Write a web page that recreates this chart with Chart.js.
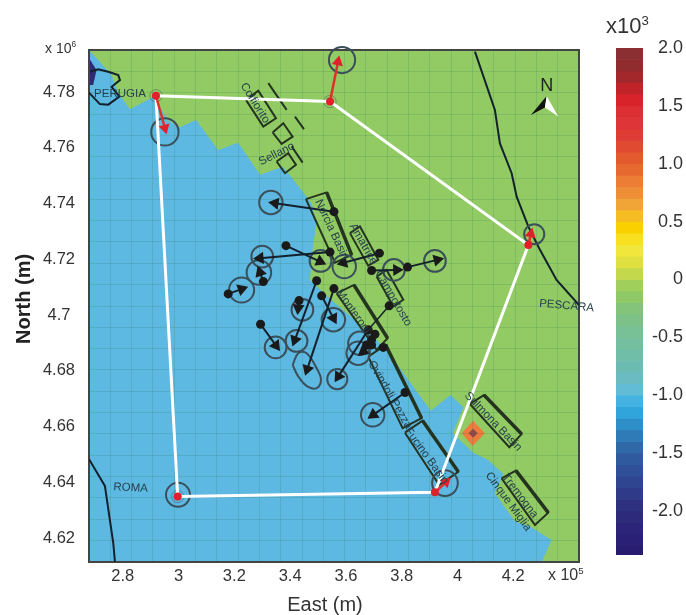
<!DOCTYPE html>
<html>
<head>
<meta charset="utf-8">
<script src="https://cdn.jsdelivr.net/npm/chart.js@4"></script>
<style>
body { margin: 0; background: #fff; font-family: "Liberation Sans", sans-serif; color: #333; }
canvas { position: absolute; top: 0; }
#mapChart { left: 0; }
#barChart { left: 600px; }
.exp { position: absolute; white-space: nowrap; }
.exp sup { font-size: 60%; line-height: 0; }
</style>
</head>
<body>
<canvas id="mapChart" width="600" height="615"></canvas>
<canvas id="barChart" width="86" height="615"></canvas>
<div class="exp" style="left:45px;top:40px;font-size:14px">x 10<sup>6</sup></div>
<div class="exp" style="left:548px;top:566px;font-size:16px">x 10<sup>5</sup></div>
<div class="exp" style="left:606px;top:13px;font-size:22px">x10<sup>3</sup></div>
<script>
// axes, east in 1e5 m and north in 1e6 m
var xMin = 2.679, xMax = 4.4355;
var yMin = 4.6114, yMax = 4.7951;
var xTicks = [2.8, 3, 3.2, 3.4, 3.6, 3.8, 4, 4.2];
var yTicks = [4.62, 4.64, 4.66, 4.68, 4.7, 4.72, 4.74, 4.76, 4.78];

// land / sea boundary, walking down the coast then round the east side
var landX = [2.679, 2.760, 2.784, 2.826, 2.912, 2.960, 3.005, 3.063, 3.142, 3.214, 3.292, 3.375, 3.477, 3.495, 3.483, 3.471, 3.555, 3.674, 3.746, 3.904, 3.975, 4.021, 3.983, 4.056, 4.110, 4.164, 4.134, 4.206, 4.260, 4.337, 4.302, 4.4355, 4.4355];
var landY = [4.7951, 4.7861, 4.7796, 4.7738, 4.7784, 4.7700, 4.7674, 4.7700, 4.7592, 4.7618, 4.7503, 4.7532, 4.7401, 4.7329, 4.7258, 4.7126, 4.7048, 4.6947, 4.6875, 4.6657, 4.6713, 4.6669, 4.6576, 4.6506, 4.6480, 4.6430, 4.6361, 4.6259, 4.6241, 4.6193, 4.6114, 4.6114, 4.7951];
var deepX = [2.679, 2.706, 2.694, 2.679];
var deepY = [4.7922, 4.7879, 4.7825, 4.7825];
var diamondX = [4.056, 4.098, 4.054, 4.015];
var diamondY = [4.6621, 4.6576, 4.6530, 4.6576];
var northDarkX = [4.263, 4.3195, 4.3134];
var northDarkY = [4.7718, 4.7786, 4.7745];
var northLightX = [4.3195, 4.361, 4.3134];
var northLightY = [4.7786, 4.7712, 4.7745];

// black curves
var perugiaX = [2.679, 2.718, 2.748, 2.788, 2.760, 2.790, 2.784, 2.748, 2.712, 2.683];
var perugiaY = [4.7798, 4.7757, 4.7755, 4.7784, 4.7819, 4.7843, 4.7861, 4.7873, 4.7882, 4.7873];
var pescaraX = [4.0625, 4.134, 4.152, 4.194, 4.212, 4.254, 4.2955, 4.355, 4.4355];
var pescaraY = [4.7945, 4.7736, 4.7616, 4.7509, 4.7425, 4.7317, 4.7234, 4.7126, 4.7036];
var romaX = [2.679, 2.736, 2.766, 2.772];
var romaY = [4.6483, 4.6387, 4.6182, 4.6114];

// fault boxes and strokes, null breaks the line
var faultX = [3.2417, 3.2859, 3.3492, 3.3038, 3.2417, null, 3.3217, 3.3874, null, 3.4173, 3.4496, null,
    3.3373, 3.3755, 3.4089, 3.3695, 3.3373, null, 3.3516, 3.3934, 3.4209, 3.3815, 3.3516, null, 3.4054, 3.4448, null,
    3.4567, 3.5308, 3.6204, 3.5607, 3.4567, null, 3.6145, 3.6503, 3.716, 3.680, 3.6145, null,
    3.710, 3.7459, 3.8056, 3.7698, 3.710, null, 3.5667, 3.6288, 3.7495, 3.710, 3.5667, null,
    3.680, 3.7423, 3.8713, 3.8032, 3.680, null, 3.8116, 3.8749, 4.0028, 3.9347, 3.8116, null,
    4.0446, 4.0948, 4.2298, 4.1856, 4.0446, null, 4.1581, 4.2095, 4.3253, 4.2776, 4.1581];
var faultY = [4.7772, 4.7805, 4.7706, 4.7676, 4.7772, null, 4.7832, 4.7736, null, 4.7712, 4.7667, null,
    4.7655, 4.7688, 4.7640, 4.7614, 4.7655, null, 4.7551, 4.7581, 4.7539, 4.7509, 4.7551, null, 4.7605, 4.7547, null,
    4.7416, 4.7440, 4.7216, 4.7188, 4.7416, null, 4.7294, 4.7318, 4.7198, 4.7177, 4.7294, null,
    4.7138, 4.7162, 4.7055, 4.7031, 4.7138, null, 4.7078, 4.7108, 4.6917, 4.6875, 4.7078, null,
    4.6851, 4.6893, 4.6630, 4.6594, 4.6851, null, 4.6578, 4.6621, 4.6438, 4.6390, 4.6578, null,
    4.6681, 4.6713, 4.6573, 4.6526, 4.6681, null, 4.6414, 4.6442, 4.6291, 4.6247, 4.6414];
// heavy strokes along the north-east side of the basins
var heavyX = [3.5308, 3.6204, null, 3.6288, 3.7495, null, 3.7423, 3.8713, null, 3.8749, 4.0028, null, 4.0948, 4.2298, null, 4.2095, 4.3253];
var heavyY = [4.7440, 4.7216, null, 4.7108, 4.6917, null, 4.6893, 4.6630, null, 4.6621, 4.6438, null, 4.6713, 4.6573, null, 4.6442, 4.6291];

// GPS network
var networkX = [2.919, 3.543, 4.254, 3.919, 2.997, 2.919];
var networkY = [4.7787, 4.7766, 4.7251, 4.6364, 4.6349, 4.7787];
var redBaseX = [2.919, 3.543, 4.254, 3.919, 2.997];
var redBaseY = [4.7787, 4.7766, 4.7251, 4.6364, 4.6349];
var redTipX = [2.951, 3.5715, 4.263, 3.959];
var redTipY = [4.7671, 4.7908, 4.7291, 4.6401];
var redErrX = [2.951, 3.586, 4.275, 3.955, 2.998];
var redErrY = [4.7657, 4.7915, 4.7290, 4.6397, 4.6355];
var redErrSize = [0.049, 0.047, 0.036, 0.046, 0.043];
var baseErrSize = [0.022, 0.022, 0.0, 0.0, 0.022];

// velocity arrows
var arrowBaseX = [3.557, 3.543, 3.385, 3.304, 3.178, 3.720, 3.692, 3.821, 3.495, 3.557, 3.513, 3.432, 3.294, 3.680, 3.812, 3.692];
var arrowBaseY = [4.7371, 4.7226, 4.7249, 4.7120, 4.7076, 4.7222, 4.7160, 4.7172, 4.7123, 4.7095, 4.7069, 4.7052, 4.6967, 4.6947, 4.6722, 4.6893];
var arrowTipX = [3.346, 3.292, 3.507, 3.292, 3.226, 3.591, 3.782, 3.9275, 3.417, 3.4615, 3.555, 3.429, 3.349, 3.573, 3.698, 3.662];
var arrowTipY = [4.7401, 4.7204, 4.7192, 4.7153, 4.7093, 4.7188, 4.7162, 4.7198, 4.6911, 4.6806, 4.6989, 4.7025, 4.6891, 4.6780, 4.6642, 4.6869];
var thinBaseX = [3.755];
var thinBaseY = [4.7033];
var thinTipX = [3.680];
var thinTipY = [4.6947];
var clusterX = [3.704, 3.692, 3.674, 3.734];
var clusterY = [4.6931, 4.6911, 4.6893, 4.6884];
var errX = [3.331, 3.300, 3.509, 3.288, 3.226, 3.594, 3.772, 3.919, 3.423, 3.555, 3.444, 3.348, 3.569, 3.696, 3.650, 3.644];
var errY = [4.7404, 4.7210, 4.7194, 4.7153, 4.7090, 4.7174, 4.7162, 4.7194, 4.6907, 4.6983, 4.7019, 4.6884, 4.6770, 4.6642, 4.6899, 4.6863];
var errSize = [0.042, 0.039, 0.039, 0.044, 0.045, 0.042, 0.039, 0.039, 0.039, 0.042, 0.039, 0.039, 0.036, 0.042, 0.042, 0.042];
var longErrX = [3.409, 3.429, 3.459, 3.495, 3.5105, 3.495, 3.4615, 3.429, 3.409];
var longErrY = [4.6821, 4.6863, 4.6863, 4.6809, 4.6768, 4.6738, 4.6744, 4.6780, 4.6821];
var diamondCoreX = [4.056];
var diamondCoreY = [4.6576];

// names on the map
var placeNames = ["PERUGIA", "Colfiorito", "Sellano", "Norcia Basin", "Amatrice", "Campotosto", "Monteroni", "Ovindoli Pezza", "Fucino Basin", "Sulmona Basin", "Tremogna", "Cinque Miglia", "PESCARA", "ROMA"];
var placeX = [2.790, 3.274, 3.352, 3.549, 3.662, 3.770, 3.626, 3.758, 3.889, 4.128, 4.224, 4.182, 4.391, 2.828];
var placeY = [4.7793, 4.7761, 4.7578, 4.7306, 4.7255, 4.7060, 4.7013, 4.6714, 4.6495, 4.6618, 4.6351, 4.6331, 4.7033, 4.6380];
var placeAngle = [0, 58, -27, 65, 60, 60, 55, 60, 54, 46, 53, 54, 5, 3];

// colour bar levels (upper edge of each band)
var barTicks = [-2, -1.5, -1, -0.5, 0, 0.5, 1, 1.5, 2];
var levelTop = [2, 1.9, 1.8, 1.7, 1.6, 1.5, 1.4, 1.3, 1.2, 1.1, 1, 0.9, 0.8, 0.7, 0.6, 0.5, 0.4, 0.3, 0.2, 0.1, 0, -0.1, -0.2, -0.3, -0.4, -0.5, -0.6, -0.7, -0.8, -0.9, -1, -1.1, -1.2, -1.3, -1.4, -1.5, -1.6, -1.7, -1.8, -1.9, -2, -2.1, -2.2, -2.3];
var levelColors = ["#8c2f33", "#902b2e", "#a3282b", "#c12428", "#d8232a", "#dc2f33", "#de3538", "#e03c36", "#e04a30", "#e25a2e", "#e66a30", "#eb7d35", "#ee8f38", "#f1a536", "#f5bd22", "#fbd000", "#f8e020", "#f0e63c", "#dfe040", "#c4d84c", "#a0cf5c", "#8ec867", "#84c47a", "#7cc288", "#78c095", "#74bf9f", "#70bea8", "#6dbcb4", "#6abcc2", "#62bcd6", "#45b3e2", "#30a5dc", "#2e8ec8", "#2f7bb8", "#3069a8", "#2f5a9e", "#2f4f98", "#2f4590", "#2f3a88", "#2e3080", "#2d2a7c", "#2b2478", "#2a2075", "#281c70"];
var barBottom = -2.38;

// axis titles sit left of the axis middle in the original
var eastTitleX = 3.525;
var northTitleY = 4.7058;

var textColor = "#333333";
var frameColor = "#444444";

function zip(xs, ys) {
    return xs.map((x, i) => ({ x: x, y: ys[i] }));
}

function segments(x0, y0, x1, y1) {
    var pts = [];
    x0.forEach((x, i) => {
        pts.push({ x: x, y: y0[i] }, { x: x1[i], y: y1[i] }, { x: null, y: null });
    });
    return pts;
}

function heading(x0, y0, x1, y1) {
    return (ctx) => {
        var sx = ctx.chart.scales.x, sy = ctx.chart.scales.y, i = ctx.dataIndex;
        var dx = sx.getPixelForValue(x1[i]) - sx.getPixelForValue(x0[i]);
        var dy = sy.getPixelForValue(y1[i]) - sy.getPixelForValue(y0[i]);
        return Math.atan2(dx, -dy) * 180 / Math.PI;
    };
}

function errRadius(sizes) {
    return (ctx) => {
        var sx = ctx.chart.scales.x;
        return sizes[ctx.dataIndex] * (sx.getPixelForValue(1) - sx.getPixelForValue(0));
    };
}

function lineSet(points, color, width, order, extra) {
    return Object.assign({ type: "scatter", data: points, showLine: true, borderColor: color, borderWidth: width, pointRadius: 0, fill: false, order: order }, extra || {});
}

function pointSet(points, style, radius, color, order, extra) {
    return Object.assign({ type: "scatter", data: points, showLine: false, pointStyle: style, pointRadius: radius, backgroundColor: color, borderColor: color, pointBorderWidth: 0, order: order }, extra || {});
}

function fillShape(chart, xs, ys, color) {
    var ctx = chart.ctx, sx = chart.scales.x, sy = chart.scales.y;
    ctx.beginPath();
    xs.forEach((x, i) => {
        ctx.lineTo(sx.getPixelForValue(x), sy.getPixelForValue(ys[i]));
    });
    ctx.closePath();
    ctx.fillStyle = color;
    ctx.fill();
}

var mapShapes = {
    id: "mapShapes",
    beforeDraw(chart) {
        var a = chart.chartArea;
        chart.ctx.save();
        chart.ctx.fillStyle = "#5db8e2";
        chart.ctx.fillRect(a.left, a.top, a.width, a.height);
        fillShape(chart, landX, landY, "#92cb64");
        fillShape(chart, deepX, deepY, "#2d2a7c");
        fillShape(chart, diamondX, diamondY, "#ee7a3c");
        chart.ctx.restore();
    },
    afterDatasetsDraw(chart) {
        var ctx = chart.ctx, sx = chart.scales.x, sy = chart.scales.y;
        fillShape(chart, northDarkX, northDarkY, "#111111");
        fillShape(chart, northLightX, northLightY, "#ffffff");
        ctx.save();
        ctx.textAlign = "center";
        ctx.textBaseline = "middle";
        ctx.fillStyle = "#222222";
        ctx.font = "18px 'Liberation Sans'";
        ctx.fillText("N", sx.getPixelForValue(4.3195), sy.getPixelForValue(4.7821));
        ctx.fillStyle = "#27404a";
        ctx.font = "11.5px 'Liberation Sans'";
        placeNames.forEach((name, i) => {
            ctx.save();
            ctx.translate(sx.getPixelForValue(placeX[i]), sy.getPixelForValue(placeY[i]));
            ctx.rotate(placeAngle[i] * Math.PI / 180);
            ctx.fillText(name, 0, 0);
            ctx.restore();
        });
        // axis titles
        ctx.fillStyle = textColor;
        ctx.font = "20px 'Liberation Sans'";
        ctx.fillText("East (m)", sx.getPixelForValue(eastTitleX), 605);
        ctx.save();
        ctx.translate(24, sy.getPixelForValue(northTitleY));
        ctx.rotate(-Math.PI / 2);
        ctx.fillStyle = "#222222";
        ctx.font = "bold 20px 'Liberation Sans'";
        ctx.fillText("North (m)", 0, 0);
        ctx.restore();
        ctx.restore();
    },
};

var tickFont = { family: "Liberation Sans", size: 16.5 };

new Chart(document.getElementById("mapChart"), {
    data: {
        datasets: [
            pointSet(zip(clusterX, clusterY), "circle", 4.5, "#1a1a1a", 1),
            pointSet(zip(arrowBaseX, arrowBaseY), "circle", 4.5, "#1a1a1a", 1),
            pointSet(zip(arrowTipX, arrowTipY), "triangle", 7, "#1a1a1a", 1, { rotation: heading(arrowBaseX, arrowBaseY, arrowTipX, arrowTipY) }),
            lineSet(segments(arrowBaseX, arrowBaseY, arrowTipX, arrowTipY), "#14202c", 2, 2),
            lineSet(segments(thinBaseX, thinBaseY, thinTipX, thinTipY), "#14202c", 1.5, 2),
            pointSet(zip(thinBaseX, thinBaseY), "circle", 4.5, "#1a1a1a", 1),
            pointSet(zip(redTipX, redTipY), "triangle", 6.5, "#e0202a", 1, { rotation: heading(redBaseX, redBaseY, redTipX, redTipY) }),
            pointSet(zip(redBaseX, redBaseY), "circle", 4, "#e0202a", 1),
            lineSet(segments(redBaseX.slice(0, 4), redBaseY.slice(0, 4), redTipX, redTipY), "#e0302a", 2.5, 2),
            lineSet(zip(networkX, networkY), "#ffffff", 3, 3),
            pointSet(zip(errX, errY), "circle", errRadius(errSize), "rgba(0,0,0,0)", 4, { borderColor: "#3a4f5a", pointBorderWidth: 2, clip: false }),
            pointSet(zip(redErrX, redErrY), "circle", errRadius(redErrSize), "rgba(0,0,0,0)", 4, { borderColor: "#3a4f5a", pointBorderWidth: 2, clip: false }),
            pointSet(zip(redBaseX, redBaseY), "circle", errRadius(baseErrSize), "rgba(0,0,0,0)", 4, { borderColor: "rgba(58,79,90,0.45)", pointBorderWidth: 1 }),
            lineSet(zip(longErrX, longErrY), "#3a4f5a", 2, 4, { tension: 0.4 }),
            pointSet(zip(diamondCoreX, diamondCoreY), "rectRot", 4.5, "#8a4a48", 4),
            lineSet(zip(faultX, faultY), "#25341f", 2, 5),
            lineSet(zip(heavyX, heavyY), "#25341f", 3.5, 5),
            lineSet(zip(perugiaX, perugiaY), "#14202c", 2, 6),
            lineSet(zip(pescaraX, pescaraY), "#14202c", 2, 6),
            lineSet(zip(romaX, romaY), "#14202c", 2, 6),
        ],
    },
    options: {
        responsive: false,
        animation: false,
        events: [],
        layout: { padding: { top: 50, right: 21, left: 0, bottom: 0 } },
        plugins: { legend: { display: false }, tooltip: { enabled: false } },
        scales: {
            x: {
                type: "linear",
                position: "bottom",
                min: xMin,
                max: xMax,
                afterBuildTicks: (s) => { s.ticks = xTicks.map((v) => ({ value: v })); },
                afterFit: (s) => { s.height = 53; },
                grid: { display: false, drawTicks: false },
                border: { color: frameColor, width: 2 },
                ticks: { color: textColor, font: tickFont, padding: 5, maxRotation: 0, callback: (v) => String(v) },
            },
            y: {
                type: "linear",
                position: "left",
                min: yMin,
                max: yMax,
                afterBuildTicks: (s) => { s.ticks = yTicks.map((v) => ({ value: v })); },
                afterFit: (s) => { s.width = 89; },
                grid: { display: false, drawTicks: false },
                border: { color: frameColor, width: 2 },
                ticks: { color: textColor, font: tickFont, padding: 14, crossAlign: "center", callback: (v) => String(v) },
            },
            xGrid: {
                type: "linear",
                axis: "x",
                position: "top",
                min: xMin,
                max: xMax,
                afterFit: (s) => { s.height = 0; },
                grid: { color: "rgba(50,125,90,0.2)", drawTicks: false },
                border: { color: frameColor, width: 2 },
                ticks: { display: false, count: 24 },
            },
            yGrid: {
                type: "linear",
                axis: "y",
                position: "right",
                min: yMin,
                max: yMax,
                afterFit: (s) => { s.width = 0; },
                grid: { color: "rgba(50,125,90,0.2)", drawTicks: false },
                border: { color: frameColor, width: 2 },
                ticks: { display: false, count: 25 },
            },
        },
    },
    plugins: [mapShapes],
});

new Chart(document.getElementById("barChart"), {
    type: "bar",
    data: {
        labels: [""],
        datasets: levelTop.map((top, i) => ({
            data: [[i < levelTop.length - 1 ? levelTop[i + 1] : barBottom, top]],
            backgroundColor: levelColors[i],
            borderWidth: 0,
            grouped: false,
            barPercentage: 1,
            categoryPercentage: 1,
        })),
    },
    options: {
        responsive: false,
        animation: false,
        events: [],
        layout: { padding: { top: 48, bottom: 60, left: 16, right: 3 } },
        plugins: { legend: { display: false }, tooltip: { enabled: false } },
        scales: {
            x: { display: false },
            y: {
                position: "right",
                min: barBottom,
                max: 2,
                afterBuildTicks: (s) => { s.ticks = barTicks.map((v) => ({ value: v })); },
                afterFit: (s) => { s.width = 40; },
                grid: { display: false, drawTicks: false },
                border: { display: false },
                ticks: {
                    color: textColor,
                    font: { family: "Liberation Sans", size: 18 },
                    crossAlign: "far",
                    padding: 8,
                    callback: (v) => (v === 0 ? "0" : v.toFixed(1)),
                },
            },
        },
    },
});
</script>
</body>
</html>
